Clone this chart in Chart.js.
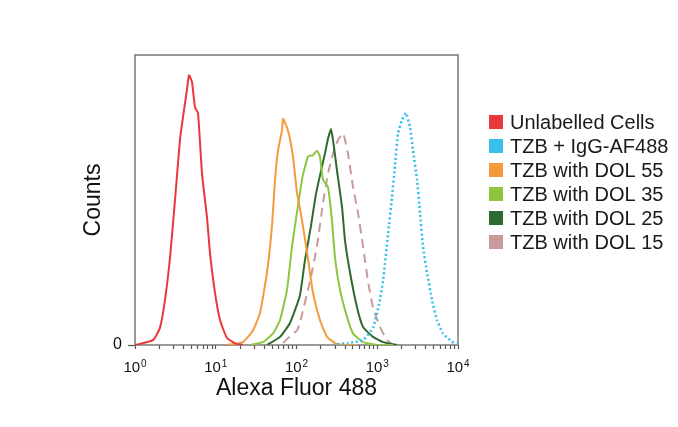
<!DOCTYPE html>
<html>
<head>
<meta charset="utf-8">
<script src="https://cdn.jsdelivr.net/npm/chart.js@4/dist/chart.umd.min.js"></script>
<style>
  body { margin: 0; background: #fff; }
  #wrap { width: 678px; height: 427px; }
</style>
</head>
<body>
<div id="wrap"><canvas id="histChart" width="678" height="427"></canvas></div>
<script>
// series labels and colours (legend order)
const seriesLabels = ['Unlabelled Cells', 'TZB + IgG-AF488', 'TZB with DOL 55', 'TZB with DOL 35', 'TZB with DOL 25', 'TZB with DOL 15'];
const seriesColors = ['#e8383d', '#38bfee', '#f59a3c', '#8cc63f', '#2f6a2f', '#c99a9a'];

// fluorescence intensity (x) and counts (y, % of max)
const unlabelledX = [1, 1.67, 2.04, 2.35, 2.71, 3.13, 3.61, 3.93, 4.4, 4.66, 5.08, 5.53, 6.03, 6.76, 7.79, 8.49, 9.79, 11.3, 13.8, 18.3, 21.7];
const unlabelledY = [0, 1.7, 6, 15.5, 30, 50, 71, 78.6, 88, 93, 90.7, 82, 80, 59, 44, 31.7, 18, 8.6, 2.4, 0.3, 0];

const igGX = [283, 434, 667, 885, 1052, 1178, 1358, 1523, 1660, 1808, 2028, 2271, 2545, 2774, 3112, 3385, 3686, 4130, 4765, 5495, 6516, 7955, 9722];
const igGY = [0, 0.7, 1.7, 5.9, 14, 22, 38, 51, 62, 73, 77.6, 80, 75, 67, 57, 45.5, 34, 25, 15.5, 8.6, 4, 1.7, 0];

const dol55X = [13.8, 21.7, 28.9, 35.3, 43.1, 49.7, 54.2, 59, 66.1, 68.1, 76.3, 83.1, 90.5, 101, 117, 135, 160, 195, 239, 318, 561];
const dol55Y = [0, 1, 5, 11, 25, 41, 57, 67, 74, 78, 75, 71, 65, 53, 43, 32, 18, 8.6, 2.8, 0.3, 0];

const dol35X = [26.6, 38.5, 51.2, 62.5, 76.3, 88, 101, 117, 120, 139, 160, 179, 195, 213, 245, 275, 300, 346, 422, 501, 667, 993, 1567];
const dol35Y = [0, 1, 4, 8.6, 19, 34, 45.5, 57, 58.6, 65, 65.5, 67, 65, 57, 54.5, 43, 30, 19, 9.7, 4, 1, 0, 0];

const dol25X = [43.1, 62.5, 83.1, 110, 127, 151, 174, 201, 225, 245, 267, 283, 318, 366, 399, 460, 561, 667, 885, 1178, 1757];
const dol25Y = [0, 2.8, 7.6, 17, 29, 41, 52, 60, 66, 71, 74.5, 70.7, 60, 47.6, 36, 25, 13, 6.2, 2.8, 1, 0];

const dol15X = [68, 83, 101, 110, 147, 179, 213, 245, 283, 327, 377, 434, 501, 578, 667, 768, 885, 1082, 1321, 1567];
const dol15Y = [0.7, 3, 5, 7.6, 22, 34, 49, 59, 66, 70.7, 73, 66, 54.5, 45.5, 34, 22, 13, 6.2, 1.7, 0];

// axis ticks
const decadeValues = [1, 10, 100, 1000, 10000];
const decadeExponents = ['0', '1', '2', '3', '4'];
const countTicks = [0];

const seriesX = [unlabelledX, igGX, dol55X, dol35X, dol25X, dol15X];
const seriesY = [unlabelledY, igGY, dol55Y, dol35Y, dol25Y, dol15Y];
const seriesDash = [[], [2, 2.6], [], [], [], [9, 6]];

function toPoints(xs, ys) {
  return xs.map((x, i) => ({ x: x, y: ys[i] }));
}

const datasets = seriesLabels.map((label, i) => ({
  label: label,
  data: toPoints(seriesX[i], seriesY[i]),
  borderColor: seriesColors[i],
  backgroundColor: seriesColors[i],
  borderWidth: i === 1 ? 2.6 : 2,
  borderDash: seriesDash[i],
  pointRadius: 0,
  tension: 0.15,
  fill: false
}));

const frame = {
  id: 'frame',
  beforeDatasetsDraw(chart) {
    const a = chart.chartArea;
    const ctx = chart.ctx;
    ctx.save();
    ctx.strokeStyle = '#6e6e6e';
    ctx.lineWidth = 1.4;
    ctx.strokeRect(a.left, a.top, a.right - a.left, a.bottom - a.top);
    ctx.restore();
  }
};

// "10" with a raised exponent under each decade tick
const decadeLabels = {
  id: 'decadeLabels',
  afterDraw(chart) {
    const scale = chart.scales.x;
    const ctx = chart.ctx;
    const base = scale.top + 27;
    ctx.save();
    ctx.fillStyle = '#111';
    ctx.textBaseline = 'alphabetic';
    ctx.textAlign = 'left';
    decadeValues.forEach((v, i) => {
      const px = scale.getPixelForValue(v);
      ctx.font = '15px "Liberation Sans", Arial, sans-serif';
      const w1 = ctx.measureText('10').width;
      ctx.font = '10px "Liberation Sans", Arial, sans-serif';
      const w2 = ctx.measureText(decadeExponents[i]).width;
      const x0 = px - (w1 + w2 + 1) / 2;
      ctx.font = '15px "Liberation Sans", Arial, sans-serif';
      ctx.fillText('10', x0, base);
      ctx.font = '10px "Liberation Sans", Arial, sans-serif';
      ctx.fillText(decadeExponents[i], x0 + w1 + 1, base - 5);
    });
    ctx.restore();
  }
};

const sideLegend = {
  id: 'sideLegend',
  afterDraw(chart) {
    const ctx = chart.ctx;
    ctx.save();
    ctx.font = '20px "Liberation Sans", Arial, sans-serif';
    ctx.textBaseline = 'middle';
    chart.data.datasets.forEach((ds, i) => {
      const y = 122 + i * 24;
      ctx.fillStyle = seriesColors[i];
      ctx.fillRect(489, y - 7, 14, 14);
      ctx.fillStyle = '#1a1a1a';
      ctx.fillText(ds.label, 510, y + 1);
    });
    ctx.restore();
  }
};

Chart.defaults.font.family = '"Liberation Sans", Arial, sans-serif';
Chart.defaults.color = '#111';

new Chart(document.getElementById('histChart'), {
  type: 'line',
  data: { datasets: datasets },
  options: {
    responsive: false,
    animation: false,
    layout: { padding: { top: 55, right: 220, left: 0, bottom: 0 } },
    plugins: {
      legend: { display: false },
      tooltip: { enabled: false }
    },
    scales: {
      x: {
        type: 'logarithmic',
        min: 1,
        max: 10000,
        afterFit(scale) { scale.height = 82; },
        afterBuildTicks(scale) {
          scale.ticks = scale.ticks.filter(t => {
            const p = Math.pow(10, Math.floor(Math.log10(t.value) + 1e-9));
            return Math.abs(t.value / p - Math.round(t.value / p)) < 1e-6;
          });
        },
        border: { display: false },
        grid: { drawOnChartArea: false, tickLength: 4, color: '#555', tickWidth: 1.2 },
        ticks: { display: false, autoSkip: false },
        title: { display: true, text: 'Alexa Fluor 488', font: { size: 23 }, color: '#111', padding: { bottom: 25 } }
      },
      y: {
        min: 0,
        max: 100,
        afterFit(scale) { scale.width = 135; },
        afterBuildTicks(scale) { scale.ticks = countTicks.map(v => ({ value: v })); },
        border: { display: false },
        grid: { drawOnChartArea: false, tickLength: 7, color: '#555', tickWidth: 1.2 },
        ticks: { padding: 6, font: { size: 16 }, color: '#111' },
        title: { display: true, text: 'Counts', font: { size: 23 }, color: '#111', padding: { top: 80 } }
      }
    }
  },
  plugins: [frame, decadeLabels, sideLegend]
});
</script>
</body>
</html>
